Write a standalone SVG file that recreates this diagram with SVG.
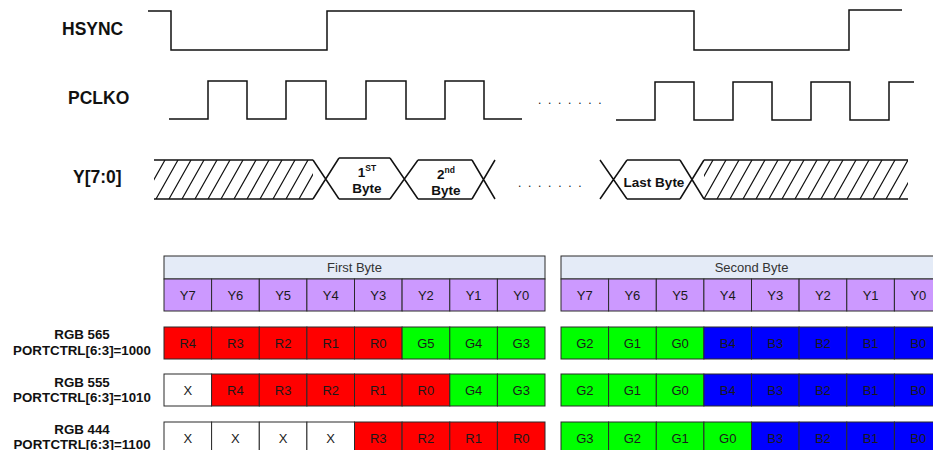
<svg xmlns="http://www.w3.org/2000/svg" width="933" height="450" viewBox="0 0 933 450">
  <style>
    .wave { fill: none; stroke: #111; stroke-width: 1.5; }
    .hatch { stroke: #111; stroke-width: 1.2; }
    .sig { font-family: "Liberation Sans", Arial, sans-serif; font-weight: bold; font-size: 17.5px; fill: #111; }
    .blab { font-family: "Liberation Sans", Arial, sans-serif; font-weight: bold; font-size: 13.5px; fill: #111; text-anchor: middle; }
    .sup { font-size: 8.5px; }
    .dots { font-family: "Liberation Sans", Arial, sans-serif; font-size: 12px; fill: #111; letter-spacing: 6.7px; }
    .mode { font-family: "Liberation Sans", Arial, sans-serif; font-weight: bold; font-size: 13.3px; fill: #111; text-anchor: middle; }
    .cell { stroke: #2a2a2a; stroke-width: 1; }
    .hdr { fill: #e4ebf7; }
    .y { fill: #cc99ff; }
    .r { fill: #ff0000; }
    .g { fill: #00ff00; }
    .b { fill: #0000ff; }
    .x { fill: #ffffff; }
    .ct { font-family: "Liberation Sans", Arial, sans-serif; font-size: 13px; fill: #1a1a1a; text-anchor: middle; }
    .ht { font-family: "Liberation Sans", Arial, sans-serif; font-size: 13px; fill: #333; text-anchor: middle; }
  </style>
  <defs>
    <clipPath id="clipA"><rect x="154" y="160" width="159" height="39"/></clipPath>
    <clipPath id="clipB"><rect x="704" y="160" width="204" height="39"/></clipPath>
  </defs>

  <rect width="933" height="450" fill="#ffffff"/>

  <!-- signal names -->
  <text class="sig" x="62" y="35">HSYNC</text>
  <text class="sig" x="68" y="104">PCLKO</text>
  <text class="sig" x="73" y="183">Y[7:0]</text>

  <g id="hsync">
    <path class="wave" d="M148,11 H171 V50 H327 V11 H694 V50 H849 V10 H902"/>
  </g>

  <g id="pclko">
    <path class="wave" d="M169,119 H208 V81 H247 V119 H286 V81 H326 V119 H366 V81 H406 V119 H445 V81 H484 V119 H522"/>
    <text class="dots" x="538" y="104">.......</text>
    <path class="wave" d="M616,120 H655 V82 H694 V120 H733 V82 H772 V120 H811 V82 H850 V120 H889 V82 H914"/>
  </g>

  <g id="data-bus">
    <!-- leading don't-care region -->
    <path class="wave" d="M154,160 H313 M154,199 H313"/>
    <g clip-path="url(#clipA)">
      <path class="hatch" d="M143,199 L165,160 M156,199 L178,160 M169,199 L191,160 M182,199 L204,160 M195,199 L217,160 M208,199 L230,160 M221,199 L243,160 M234,199 L256,160 M247,199 L269,160 M260,199 L282,160 M273,199 L295,160 M286,199 L308,160 M299,199 L321,160"/>
    </g>
    <!-- crossings and byte windows -->
    <path class="wave" d="M313,160 L339,199 M313,199 L339,158"/>
    <path class="wave" d="M339,158 H390 M339,199 H390"/>
    <path class="wave" d="M390,158 L418,199 M390,199 L418,160"/>
    <path class="wave" d="M418,160 H472 M418,199 H472"/>
    <path class="wave" d="M472,160 L495,199 M472,199 L495,160"/>
    <text class="dots" x="518" y="187">.......</text>
    <path class="wave" d="M600,160 L627,199 M600,199 L627,160"/>
    <path class="wave" d="M627,160 H680 M627,199 H680"/>
    <path class="wave" d="M680,160 L704,199 M680,199 L704,160"/>
    <!-- trailing don't-care region -->
    <path class="wave" d="M704,160 H908 M704,199 H908"/>
    <g clip-path="url(#clipB)">
      <path class="hatch" d="M704,199 L726,160 M717,199 L739,160 M730,199 L752,160 M743,199 L765,160 M756,199 L778,160 M769,199 L791,160 M782,199 L804,160 M795,199 L817,160 M808,199 L830,160 M821,199 L843,160 M834,199 L856,160 M847,199 L869,160 M860,199 L882,160 M873,199 L895,160 M886,199 L908,160 M899,199 L921,160 M691,199 L713,160"/>
    </g>
    <text class="blab" x="367" y="177">1<tspan class="sup" dy="-6">ST</tspan></text>
    <text class="blab" x="367" y="193">Byte</text>
    <text class="blab" x="446" y="179">2<tspan class="sup" dy="-6">nd</tspan></text>
    <text class="blab" x="446" y="195">Byte</text>
    <text class="blab" x="654" y="187">Last Byte</text>
  </g>

  <!-- mode labels -->
  <g id="labels">
    <text class="mode" x="82" y="339">RGB 565</text>
    <text class="mode" x="82" y="355">PORTCTRL[6:3]=1000</text>
    <text class="mode" x="82" y="387">RGB 555</text>
    <text class="mode" x="82" y="402">PORTCTRL[6:3]=1010</text>
    <text class="mode" x="82" y="434">RGB 444</text>
    <text class="mode" x="82" y="449">PORTCTRL[6:3]=1100</text>
  </g>

  <!-- first byte bit map -->
  <g id="first-byte">
    <rect class="cell hdr" x="164" y="256" width="381" height="23"/>
    <text class="ht" x="354.5" y="272">First Byte</text>
    <g class="row-y">
      <rect class="cell y" x="164" y="279" width="47.6" height="32"/>
      <rect class="cell y" x="211.6" y="279" width="47.7" height="32"/>
      <rect class="cell y" x="259.3" y="279" width="47.6" height="32"/>
      <rect class="cell y" x="306.9" y="279" width="47.6" height="32"/>
      <rect class="cell y" x="354.5" y="279" width="47.6" height="32"/>
      <rect class="cell y" x="402.1" y="279" width="47.7" height="32"/>
      <rect class="cell y" x="449.8" y="279" width="47.6" height="32"/>
      <rect class="cell y" x="497.4" y="279" width="47.6" height="32"/>
      <text class="ct" x="187.8" y="299.5">Y7</text>
      <text class="ct" x="235.4" y="299.5">Y6</text>
      <text class="ct" x="283.1" y="299.5">Y5</text>
      <text class="ct" x="330.7" y="299.5">Y4</text>
      <text class="ct" x="378.3" y="299.5">Y3</text>
      <text class="ct" x="425.9" y="299.5">Y2</text>
      <text class="ct" x="473.6" y="299.5">Y1</text>
      <text class="ct" x="521.2" y="299.5">Y0</text>
    </g>
    <g class="row-565">
      <rect class="cell r" x="164" y="327" width="47.6" height="32"/>
      <rect class="cell r" x="211.6" y="327" width="47.7" height="32"/>
      <rect class="cell r" x="259.3" y="327" width="47.6" height="32"/>
      <rect class="cell r" x="306.9" y="327" width="47.6" height="32"/>
      <rect class="cell r" x="354.5" y="327" width="47.6" height="32"/>
      <rect class="cell g" x="402.1" y="327" width="47.7" height="32"/>
      <rect class="cell g" x="449.8" y="327" width="47.6" height="32"/>
      <rect class="cell g" x="497.4" y="327" width="47.6" height="32"/>
      <text class="ct" x="187.8" y="347.5">R4</text>
      <text class="ct" x="235.4" y="347.5">R3</text>
      <text class="ct" x="283.1" y="347.5">R2</text>
      <text class="ct" x="330.7" y="347.5">R1</text>
      <text class="ct" x="378.3" y="347.5">R0</text>
      <text class="ct" x="425.9" y="347.5">G5</text>
      <text class="ct" x="473.6" y="347.5">G4</text>
      <text class="ct" x="521.2" y="347.5">G3</text>
    </g>
    <g class="row-555">
      <rect class="cell x" x="164" y="374" width="47.6" height="32"/>
      <rect class="cell r" x="211.6" y="374" width="47.7" height="32"/>
      <rect class="cell r" x="259.3" y="374" width="47.6" height="32"/>
      <rect class="cell r" x="306.9" y="374" width="47.6" height="32"/>
      <rect class="cell r" x="354.5" y="374" width="47.6" height="32"/>
      <rect class="cell r" x="402.1" y="374" width="47.7" height="32"/>
      <rect class="cell g" x="449.8" y="374" width="47.6" height="32"/>
      <rect class="cell g" x="497.4" y="374" width="47.6" height="32"/>
      <text class="ct" x="187.8" y="394.5">X</text>
      <text class="ct" x="235.4" y="394.5">R4</text>
      <text class="ct" x="283.1" y="394.5">R3</text>
      <text class="ct" x="330.7" y="394.5">R2</text>
      <text class="ct" x="378.3" y="394.5">R1</text>
      <text class="ct" x="425.9" y="394.5">R0</text>
      <text class="ct" x="473.6" y="394.5">G4</text>
      <text class="ct" x="521.2" y="394.5">G3</text>
    </g>
    <g class="row-444">
      <rect class="cell x" x="164" y="422" width="47.6" height="32"/>
      <rect class="cell x" x="211.6" y="422" width="47.7" height="32"/>
      <rect class="cell x" x="259.3" y="422" width="47.6" height="32"/>
      <rect class="cell x" x="306.9" y="422" width="47.6" height="32"/>
      <rect class="cell r" x="354.5" y="422" width="47.6" height="32"/>
      <rect class="cell r" x="402.1" y="422" width="47.7" height="32"/>
      <rect class="cell r" x="449.8" y="422" width="47.6" height="32"/>
      <rect class="cell r" x="497.4" y="422" width="47.6" height="32"/>
      <text class="ct" x="187.8" y="442.5">X</text>
      <text class="ct" x="235.4" y="442.5">X</text>
      <text class="ct" x="283.1" y="442.5">X</text>
      <text class="ct" x="330.7" y="442.5">X</text>
      <text class="ct" x="378.3" y="442.5">R3</text>
      <text class="ct" x="425.9" y="442.5">R2</text>
      <text class="ct" x="473.6" y="442.5">R1</text>
      <text class="ct" x="521.2" y="442.5">R0</text>
    </g>
  </g>

  <!-- second byte bit map -->
  <g id="second-byte">
    <rect class="cell hdr" x="561" y="256" width="381" height="23"/>
    <text class="ht" x="751.5" y="272">Second Byte</text>
    <g class="row-y">
      <rect class="cell y" x="561" y="279" width="47.6" height="32"/>
      <rect class="cell y" x="608.6" y="279" width="47.7" height="32"/>
      <rect class="cell y" x="656.3" y="279" width="47.6" height="32"/>
      <rect class="cell y" x="703.9" y="279" width="47.6" height="32"/>
      <rect class="cell y" x="751.5" y="279" width="47.6" height="32"/>
      <rect class="cell y" x="799.1" y="279" width="47.7" height="32"/>
      <rect class="cell y" x="846.8" y="279" width="47.6" height="32"/>
      <rect class="cell y" x="894.4" y="279" width="47.6" height="32"/>
      <text class="ct" x="584.8" y="299.5">Y7</text>
      <text class="ct" x="632.4" y="299.5">Y6</text>
      <text class="ct" x="680.1" y="299.5">Y5</text>
      <text class="ct" x="727.7" y="299.5">Y4</text>
      <text class="ct" x="775.3" y="299.5">Y3</text>
      <text class="ct" x="822.9" y="299.5">Y2</text>
      <text class="ct" x="870.6" y="299.5">Y1</text>
      <text class="ct" x="918.2" y="299.5">Y0</text>
    </g>
    <g class="row-565">
      <rect class="cell g" x="561" y="327" width="47.6" height="32"/>
      <rect class="cell g" x="608.6" y="327" width="47.7" height="32"/>
      <rect class="cell g" x="656.3" y="327" width="47.6" height="32"/>
      <rect class="cell b" x="703.9" y="327" width="47.6" height="32"/>
      <rect class="cell b" x="751.5" y="327" width="47.6" height="32"/>
      <rect class="cell b" x="799.1" y="327" width="47.7" height="32"/>
      <rect class="cell b" x="846.8" y="327" width="47.6" height="32"/>
      <rect class="cell b" x="894.4" y="327" width="47.6" height="32"/>
      <text class="ct" x="584.8" y="347.5">G2</text>
      <text class="ct" x="632.4" y="347.5">G1</text>
      <text class="ct" x="680.1" y="347.5">G0</text>
      <text class="ct" x="727.7" y="347.5">B4</text>
      <text class="ct" x="775.3" y="347.5">B3</text>
      <text class="ct" x="822.9" y="347.5">B2</text>
      <text class="ct" x="870.6" y="347.5">B1</text>
      <text class="ct" x="918.2" y="347.5">B0</text>
    </g>
    <g class="row-555">
      <rect class="cell g" x="561" y="374" width="47.6" height="32"/>
      <rect class="cell g" x="608.6" y="374" width="47.7" height="32"/>
      <rect class="cell g" x="656.3" y="374" width="47.6" height="32"/>
      <rect class="cell b" x="703.9" y="374" width="47.6" height="32"/>
      <rect class="cell b" x="751.5" y="374" width="47.6" height="32"/>
      <rect class="cell b" x="799.1" y="374" width="47.7" height="32"/>
      <rect class="cell b" x="846.8" y="374" width="47.6" height="32"/>
      <rect class="cell b" x="894.4" y="374" width="47.6" height="32"/>
      <text class="ct" x="584.8" y="394.5">G2</text>
      <text class="ct" x="632.4" y="394.5">G1</text>
      <text class="ct" x="680.1" y="394.5">G0</text>
      <text class="ct" x="727.7" y="394.5">B4</text>
      <text class="ct" x="775.3" y="394.5">B3</text>
      <text class="ct" x="822.9" y="394.5">B2</text>
      <text class="ct" x="870.6" y="394.5">B1</text>
      <text class="ct" x="918.2" y="394.5">B0</text>
    </g>
    <g class="row-444">
      <rect class="cell g" x="561" y="422" width="47.6" height="32"/>
      <rect class="cell g" x="608.6" y="422" width="47.7" height="32"/>
      <rect class="cell g" x="656.3" y="422" width="47.6" height="32"/>
      <rect class="cell g" x="703.9" y="422" width="47.6" height="32"/>
      <rect class="cell b" x="751.5" y="422" width="47.6" height="32"/>
      <rect class="cell b" x="799.1" y="422" width="47.7" height="32"/>
      <rect class="cell b" x="846.8" y="422" width="47.6" height="32"/>
      <rect class="cell b" x="894.4" y="422" width="47.6" height="32"/>
      <text class="ct" x="584.8" y="442.5">G3</text>
      <text class="ct" x="632.4" y="442.5">G2</text>
      <text class="ct" x="680.1" y="442.5">G1</text>
      <text class="ct" x="727.7" y="442.5">G0</text>
      <text class="ct" x="775.3" y="442.5">B3</text>
      <text class="ct" x="822.9" y="442.5">B2</text>
      <text class="ct" x="870.6" y="442.5">B1</text>
      <text class="ct" x="918.2" y="442.5">B0</text>
    </g>
  </g>
</svg>
